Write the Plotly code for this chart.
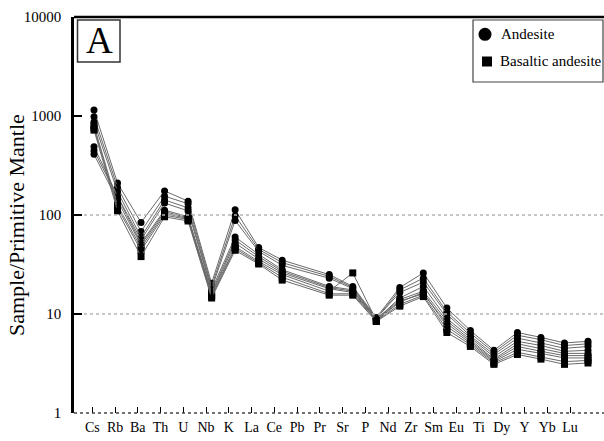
import plotly.graph_objects as go

# Trace elements, primitive-mantle normalised
elements = ["Cs", "Rb", "Ba", "Th", "U", "Nb", "K", "La", "Ce", "Pb", "Pr",
            "Sr", "P", "Nd", "Zr", "Sm", "Eu", "Ti", "Dy", "Y", "Yb", "Lu"]

# Andesite samples (Pb not analysed -> None)
and_1 = [1150, 210, 84, 175, 138, 20.5, 113, 47, 35, None, 25, 19, 9.2, 18.5, 26, 11.5, 6.8, 4.3, 6.5, 5.8, 5.1, 5.3]
and_2 = [980, 190, 68, 155, 130, 19.0, 98, 45, 33, None, 24, 18.5, 9.0, 17.5, 23, 10.5, 6.4, 4.1, 6.1, 5.5, 4.8, 5.0]
and_3 = [870, 172, 60, 142, 118, 18.0, 88, 43, 31, None, 23, 18, 9.0, 16.5, 21, 10.0, 6.0, 3.9, 5.7, 5.1, 4.5, 4.7]
and_4 = [490, 155, 56, 132, 110, 17.5, 60, 40, 28, None, 19, 17.5, 8.8, 14.5, 19, 9.0, 5.8, 3.7, 5.3, 4.8, 4.2, 4.3]
and_5 = [445, 150, 52, 112, 96, 16.5, 56, 38, 27, None, 18.5, 17, 8.8, 14.0, 17, 8.5, 5.5, 3.5, 5.0, 4.5, 4.0, 4.0]
and_6 = [410, 140, 50, 108, 94, 16.0, 52, 36, 26, None, 18, 16.5, 8.7, 13.5, 16, 8.0, 5.3, 3.4, 4.7, 4.2, 3.8, 3.8]

# Basaltic andesite samples
bas_1 = [800, 125, 47, 104, 92, 15.5, 48, 34, 25, None, 17, 26, 8.6, 13.2, 16.5, 7.5, 5.1, 3.3, 4.4, 4.0, 3.6, 3.6]
bas_2 = [760, 118, 44, 100, 90, 15.0, 46, 33, 23.5, None, 16, 16, 8.5, 12.5, 15.5, 7.0, 4.9, 3.2, 4.1, 3.7, 3.3, 3.4]
bas_3 = [720, 110, 38, 96, 87, 14.5, 44, 32, 22, None, 15.5, 15.5, 8.4, 12.0, 15, 6.5, 4.7, 3.1, 3.9, 3.5, 3.1, 3.2]

andesite = [and_1, and_2, and_3, and_4, and_5, and_6]
basaltic = [bas_1, bas_2, bas_3]

y_ticks = [1, 10, 100, 1000, 10000]

# ---- geometry (pixels) ----
W, H = 604, 441
L, T, B, R = 74, 17, 28, 0
PW, PH = W - L - R, H - T - B
X_RANGE = [-0.85, 21.68]
TICK_STEP, TICK_SHIFT = 0.967, -0.072
SERIF = "Liberation Serif"


def px(x):
    return (x - L) / PW


def py(y):
    return (H - B - y) / PH


xs = list(range(len(elements)))
fig = go.Figure()

for vals in andesite:
    fig.add_trace(go.Scatter(
        x=xs, y=vals, mode="lines+markers", connectgaps=True, showlegend=False,
        line=dict(color="#6a6a6a", width=1),
        marker=dict(symbol="circle", size=7, color="black")))
for vals in basaltic:
    fig.add_trace(go.Scatter(
        x=xs, y=vals, mode="lines+markers", connectgaps=True, showlegend=False,
        line=dict(color="#6a6a6a", width=1),
        marker=dict(symbol="square", size=7, color="black")))

shapes = []
# dotted reference lines
for v in (10, 100):
    shapes.append(dict(type="line", xref="paper", yref="y", x0=px(84), x1=1,
                       y0=v, y1=v, line=dict(color="#b4b4b4", width=1.5, dash="dot")))
shapes.append(dict(type="line", xref="paper", yref="paper", x0=0, x1=1,
                   y0=0, y1=0, line=dict(color="#444", width=1.5, dash="dot")))
# top frame line
shapes.append(dict(type="line", xref="paper", yref="paper", x0=0, x1=1,
                   y0=1, y1=1, line=dict(color="black", width=2.5)))
# panel label box
shapes.append(dict(type="rect", xref="paper", yref="paper",
                   x0=px(77.5), x1=px(120), y0=py(62), y1=py(20),
                   line=dict(color="#333", width=1.5), fillcolor="white"))
# legend box and symbols
shapes.append(dict(type="rect", xref="paper", yref="paper",
                   x0=px(473), x1=px(603), y0=py(82), y1=py(20),
                   line=dict(color="#444", width=1.2), fillcolor="white"))
shapes.append(dict(type="circle", xref="paper", yref="paper",
                   x0=px(478.5), x1=px(491.5), y0=py(40.8), y1=py(27.8),
                   line=dict(color="black", width=0), fillcolor="black"))
shapes.append(dict(type="rect", xref="paper", yref="paper",
                   x0=px(482), x1=px(492), y0=py(66.5), y1=py(56.5),
                   line=dict(color="black", width=0), fillcolor="black"))

annotations = [
    dict(text="A", xref="paper", yref="paper", x=px(99), y=py(41),
         showarrow=False, font=dict(family=SERIF, size=37, color="black"),
         xanchor="center", yanchor="middle"),
    dict(text="Andesite", xref="paper", yref="paper", x=px(499), y=py(34),
         showarrow=False, font=dict(family=SERIF, size=15, color="black"),
         xanchor="left", yanchor="middle"),
    dict(text="Basaltic andesite", xref="paper", yref="paper", x=px(498), y=py(61),
         showarrow=False, font=dict(family=SERIF, size=15, color="black"),
         xanchor="left", yanchor="middle"),
    dict(text="Sample/Primitive Mantle", xref="paper", yref="paper",
         x=px(16), y=py(225), textangle=-90, showarrow=False,
         font=dict(family=SERIF, size=22, color="black"),
         xanchor="center", yanchor="middle"),
]

fig.update_layout(
    width=W, height=H,
    margin=dict(l=L, r=R, t=T, b=B, pad=0),
    paper_bgcolor="white", plot_bgcolor="white",
    font=dict(family=SERIF, color="black"),
    shapes=shapes, annotations=annotations,
    showlegend=False,
)
fig.update_xaxes(
    range=X_RANGE, showgrid=False, zeroline=False, showline=False,
    tickvals=[TICK_SHIFT + TICK_STEP * i for i in xs], ticktext=elements,
    ticks="inside", ticklen=6, tickwidth=1, tickcolor="black",
    ticklabelstandoff=4,
    tickfont=dict(family=SERIF, size=14, color="black"),
)
fig.update_yaxes(
    type="log", range=[0, 4], showgrid=False, zeroline=False,
    showline=True, linecolor="black", linewidth=2.5,
    tickvals=y_ticks, ticktext=[str(v) for v in y_ticks],
    ticks="inside", ticklen=8, tickwidth=1.5, tickcolor="black",
    ticklabelstandoff=7,
    tickfont=dict(family=SERIF, size=15, color="black"),
)

fig.write_html("out.html")
